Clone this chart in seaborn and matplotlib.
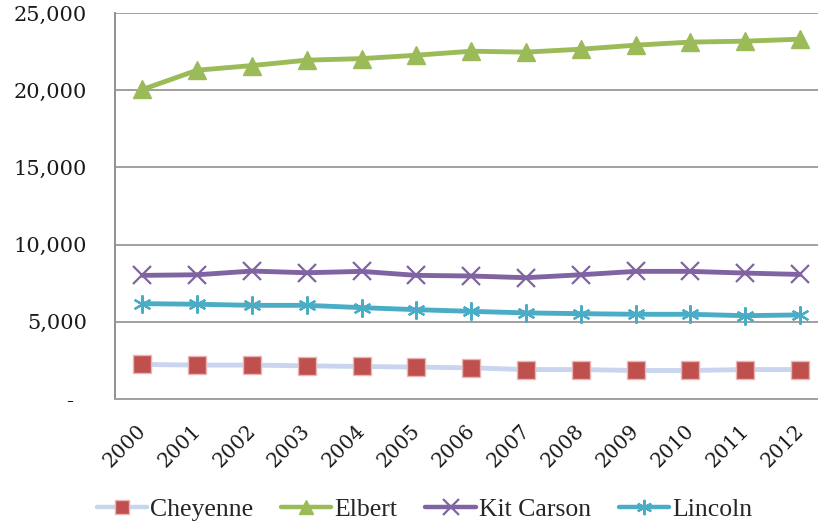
import matplotlib
matplotlib.use("Agg")
import matplotlib.pyplot as plt
import matplotlib.transforms as mtransforms
import seaborn as sns
import pandas as pd
import numpy as np
from matplotlib.ticker import FuncFormatter
from matplotlib.lines import Line2D

years = [str(y) for y in range(2000, 2013)]
cheyenne = [2240, 2200, 2200, 2150, 2110, 2070, 2020, 1910, 1910, 1850, 1850, 1910, 1910]
elbert = [20050, 21300, 21600, 21950, 22050, 22270, 22530, 22470, 22660, 22920, 23120, 23180, 23310]
kit_carson = [8010, 8050, 8290, 8180, 8270, 8010, 7970, 7860, 8050, 8270, 8270, 8160, 8070]
lincoln = [6180, 6140, 6070, 6070, 5920, 5790, 5680, 5580, 5530, 5490, 5490, 5400, 5450]
y_ticks = [0, 5000, 10000, 15000, 20000, 25000]

asterisk = (6, 2, 0)
series = [
    # name, values, line colour, marker, marker face, marker edge
    ("Cheyenne", cheyenne, "#C9D5EE", "s", "#C0504D", "#E8B5B4"),
    ("Elbert", elbert, "#9BBB59", "^", "#9BBB59", "#9BBB59"),
    ("Kit Carson", kit_carson, "#8064A2", "x", "#8064A2", "#8064A2"),
    ("Lincoln", lincoln, "#4BACC6", asterisk, "#4BACC6", "#4BACC6"),
]

sns.set_style("white")
fig = plt.figure(figsize=(8.18, 5.23), dpi=100)
ax = fig.add_axes([115 / 818, 0.237, (818 - 115) / 818, 0.738])

x = np.arange(len(years))
handles = []
for name, vals, lc, mk, mfc, mec in series:
    df = pd.DataFrame({"idx": x, "value": vals})
    is_filled = mk in ("s", "^")
    ms = 12.5 if is_filled else 13
    mew = 1.0 if is_filled else 1.6
    sns.lineplot(data=df, x="idx", y="value", ax=ax, color=lc, linewidth=3.5,
                 marker=mk, markersize=ms, markerfacecolor=mfc,
                 markeredgecolor=mec, markeredgewidth=mew, zorder=3)
    handles.append(Line2D([], [], color=lc, linewidth=3.2, marker=mk,
                          markersize=ms * 0.85, markerfacecolor=mfc,
                          markeredgecolor=mec, markeredgewidth=mew, label=name))

ax.set_xlim(-0.5, 12.33)
ax.set_ylim(0, 25000)
ax.set_yticks(y_ticks)
ax.yaxis.set_major_formatter(
    FuncFormatter(lambda v, p: "-  " if v == 0 else f"{int(v):,}"))
ax.set_xticks(np.arange(-0.5, 12.5, 1.0), minor=False)
ax.set_xticklabels([])
ax.set_xticks(x, minor=True)
ax.set_xticklabels(years, minor=True, rotation=45, ha="right", va="top",
                   rotation_mode="anchor")
ax.set_xlabel("")
ax.set_ylabel("")

ax.grid(axis="y", color="#A0A0A0", linewidth=1.4, zorder=0)
ax.grid(axis="x", visible=False)
for s in ("top", "right"):
    ax.spines[s].set_visible(False)
ax.spines["left"].set_color("#909090")
ax.spines["left"].set_linewidth(1.4)
ax.spines["bottom"].set_color("#A0A0A0")
ax.spines["bottom"].set_linewidth(1.4)

ax.tick_params(axis="y", which="major", length=6, width=1.4, color="#909090",
               direction="out", pad=14, labelsize=15, labelcolor="#1a1a1a")
ax.tick_params(axis="x", which="major", length=7, width=1.4, color="#909090",
               direction="out")
ax.tick_params(axis="x", which="minor", length=0, pad=16, labelsize=14.5,
               labelcolor="#1a1a1a")
shift = mtransforms.ScaledTranslation(-6 / 100, 0, fig.dpi_scale_trans)
for lab in ax.get_xticklabels(minor=True):
    lab.set_fontfamily("DejaVu Serif")
    lab.set_transform(lab.get_transform() + shift)
for lab in ax.get_yticklabels():
    lab.set_fontfamily("DejaVu Serif")

fig.legend(handles=handles, loc="center", bbox_to_anchor=(0.519, 0.026),
           ncol=4, frameon=False, handlelength=1.95, handletextpad=0.12,
           columnspacing=1.09, prop={"family": "Liberation Serif", "size": 18.5})

fig.savefig("out.png", dpi=100)
